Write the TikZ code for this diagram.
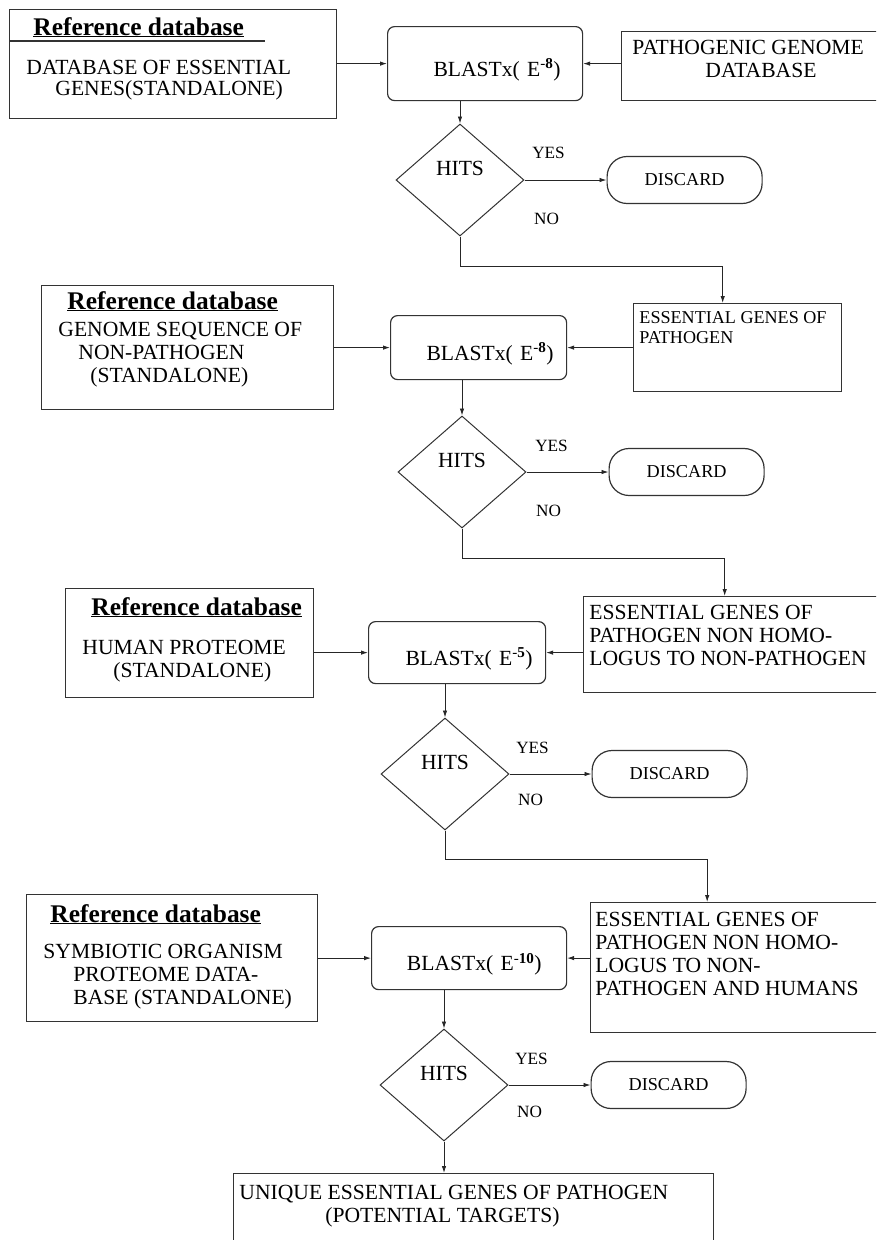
\documentclass[tikz,border=0pt]{standalone}
\usepackage{fontspec}
\setmainfont{Liberation Serif}
\usetikzlibrary{shapes.geometric,arrows.meta,positioning}

\newcommand{\mainsz}{\fontsize{21.6pt}{23pt}\selectfont}
\newcommand{\headsz}{\fontsize{25.4pt}{27pt}\selectfont\bfseries}
\newcommand{\labsz}{\fontsize{17.2pt}{19pt}\selectfont}
\newcommand{\discsz}{\fontsize{18.2pt}{20pt}\selectfont}
\newcommand{\esssz}{\fontsize{18.1pt}{20pt}\selectfont}

\begin{document}
\begin{tikzpicture}[x=1pt, y=-1pt, >={Latex[length=7pt,width=4.5pt]}, line width=0.9pt,
    box/.style={draw=black!80, line width=1.4pt, inner sep=0pt, anchor=north west},
    txt/.style={inner sep=0pt, anchor=north west, align=left, font=\mainsz},
    blast/.style={draw=black!80, line width=1.2pt, rounded corners=7pt, anchor=north west,
        align=right, font=\mainsz, text height=28pt, text depth=3pt, inner ysep=0pt},
    hits/.style={diamond, draw=black!80, line width=1pt, minimum width=128pt, minimum height=112pt,
        inner sep=0pt, font=\mainsz, text height=3pt, text depth=11.7pt},
    discard/.style={draw=black!80, line width=1.2pt, rounded corners=20pt, minimum width=155pt,
        minimum height=47pt, font=\discsz},
    head/.style={inner sep=0pt, anchor=base west, font=\headsz},
    lab/.style={inner sep=0pt, font=\labsz},
    flow/.style={->, draw=black!85}]
    \useasboundingbox (0,0) rectangle (876,1240);
    \clip (0,0) rectangle (876,1240);

    % row 1
    \node[box, minimum width=327pt, minimum height=109pt] (ref1) at (9,9) {};
    \node[head] (head1) at (33,35) {\underline{Reference database}};
    \draw[draw=black!80, line width=1.2pt] (ref1.north west) ++(0,32) -- ++(256,0);
    \node[txt, font=\fontsize{21.6pt}{21pt}\selectfont] (ref1txt) at (26,60)
        {DATABASE OF ESSENTIAL\\\hspace*{29pt}GENES(STANDALONE)};
    \node[blast, text width=151pt, inner xsep=22pt, minimum height=74pt] (blast1) at (387,26)
        {BLASTx( E\textsuperscript{-\textbf{8}})};
    \node[box, minimum width=262pt, minimum height=69pt] (path) at (621,31) {};
    \node[txt] (pathtxt) at (632,40) {PATHOGENIC GENOME\\\hspace*{73pt}DATABASE};
    \node[hits] (hit1) at (460,180) {HITS};
    \node[discard, right=82pt of hit1] (disc1) {DISCARD};
    \node[lab] (yes1) at ([shift={(24,-27)}]hit1.east) {YES};
    \node[lab] (no1) at ([shift={(22,39)}]hit1.east) {NO};

    \draw[flow] (ref1.east |- blast1.west) -- (blast1.west);
    \draw[flow] (path.west |- blast1.east) -- (blast1.east);
    \draw[flow] (hit1.north |- blast1.south) -- (hit1.north);
    \draw[flow] (hit1.east) -- (disc1.west);

    % row 2
    \node[box, minimum width=208pt, minimum height=88pt] (ess1) at (633,303) {};
    \node[txt, font=\esssz] (ess1txt) at (639,311) {ESSENTIAL GENES OF\\PATHOGEN};
    \draw[flow] (hit1.south) -- ++(0,30) -| ([xshift=-15pt]ess1.north);

    \node[box, minimum width=292pt, minimum height=124pt] (ref2) at (41,285) {};
    \node[head] (head2) at (67,309) {\underline{Reference database}};
    \node[txt] (ref2txt) at (58,322)
        {GENOME SEQUENCE OF\\\hspace*{20pt}NON-PATHOGEN\\\hspace*{32pt}(STANDALONE)};
    \node[blast, text width=150pt, inner xsep=13pt, minimum height=64pt] (blast2) at (390,315)
        {BLASTx( E\textsuperscript{-\textbf{8}})};
    \node[hits] (hit2) at (462,472) {HITS};
    \node[discard, right=82pt of hit2] (disc2) {DISCARD};
    \node[lab] (yes2) at ([shift={(25,-26)}]hit2.east) {YES};
    \node[lab] (no2) at ([shift={(22,39)}]hit2.east) {NO};

    \draw[flow] (ref2.east |- blast2.west) -- (blast2.west);
    \draw[flow] (ess1.west |- blast2.east) -- (blast2.east);
    \draw[flow] (hit2.north |- blast2.south) -- (hit2.north);
    \draw[flow] (hit2.east) -- (disc2.west);

    % row 3
    \node[box, minimum width=300pt, minimum height=96pt] (ess2) at (583,596) {};
    \node[txt] (ess2txt) at (589,605)
        {ESSENTIAL GENES OF\\PATHOGEN NON HOMO-\\LOGUS TO NON-PATHOGEN};
    \draw[flow] (hit2.south) -- ++(0,30) -| ([xshift=-9pt]ess2.north);

    \node[box, minimum width=248pt, minimum height=109pt] (ref3) at (65,588) {};
    \node[head] (head3) at (91,615) {\underline{Reference database}};
    \node[txt] (ref3txt) at (82,640) {HUMAN PROTEOME\\\hspace*{31pt}(STANDALONE)};
    \node[blast, text width=151pt, inner xsep=13pt, minimum height=62pt] (blast3) at (368,621)
        {BLASTx( E\textsuperscript{-\textbf{5}})};
    \node[hits] (hit3) at (445,774) {HITS};
    \node[discard, right=82pt of hit3] (disc3) {DISCARD};
    \node[lab] (yes3) at ([shift={(23,-26)}]hit3.east) {YES};
    \node[lab] (no3) at ([shift={(21,26)}]hit3.east) {NO};

    \draw[flow] (ref3.east |- blast3.west) -- (blast3.west);
    \draw[flow] (ess2.west |- blast3.east) -- (blast3.east);
    \draw[flow] (hit3.north |- blast3.south) -- (hit3.north);
    \draw[flow] (hit3.east) -- (disc3.west);

    % row 4
    \node[box, minimum width=293pt, minimum height=130pt] (ess3) at (590,902) {};
    \node[txt] (ess3txt) at (595,912)
        {ESSENTIAL GENES OF\\PATHOGEN NON HOMO-\\LOGUS TO NON-\\PATHOGEN AND HUMANS};
    \draw[flow] (hit3.south) -- ++(0,29) -| ([xshift=-30pt]ess3.north);

    \node[box, minimum width=291pt, minimum height=127pt] (ref4) at (26,894) {};
    \node[head] (head4) at (50,922) {\underline{Reference database}};
    \node[txt] (ref4txt) at (43,944)
        {SYMBIOTIC ORGANISM\\\hspace*{30pt}PROTEOME DATA-\\\hspace*{30pt}BASE (STANDALONE)};
    \node[blast, text width=145pt, inner xsep=25pt, minimum height=63pt] (blast4) at (371,926)
        {BLASTx( E\textsuperscript{-\textbf{10}})};
    \node[hits] (hit4) at (444,1085) {HITS};
    \node[discard, right=82pt of hit4] (disc4) {DISCARD};
    \node[lab] (yes4) at ([shift={(23,-26)}]hit4.east) {YES};
    \node[lab] (no4) at ([shift={(21,27)}]hit4.east) {NO};

    \draw[flow] (ref4.east |- blast4.west) -- (blast4.west);
    \draw[flow] (ess3.west |- blast4.east) -- (blast4.east);
    \draw[flow] (hit4.north |- blast4.south) -- (hit4.north);
    \draw[flow] (hit4.east) -- (disc4.west);

    % result
    \node[box, minimum width=480pt, minimum height=80pt] (final) at (233,1173) {};
    \node[txt] (finaltxt) at (239,1185)
        {UNIQUE ESSENTIAL GENES OF PATHOGEN\\\hspace*{86pt}(POTENTIAL TARGETS)};
    \draw[flow] (hit4.south) -- (hit4.south |- final.north);
\end{tikzpicture}
\end{document}
